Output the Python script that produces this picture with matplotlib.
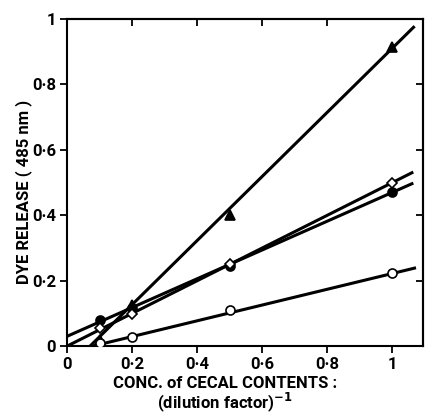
import matplotlib.pyplot as plt
import numpy as np

plt.rcParams['font.family'] = ['Roboto', 'DejaVu Sans']
plt.rcParams['font.weight'] = 'bold'

# dilution points
x_pts = [0.1, 0.2, 0.5, 1.0]

# measured dye release for each series
tri_y = [0.02, 0.125, 0.40, 0.915]      # filled triangles
dot_y = [0.08, 0.115, 0.245, 0.47]      # filled circles
dia_y = [0.055, 0.098, 0.25, 0.50]      # open diamonds
circ_y = [0.01, 0.028, 0.11, 0.223]     # open circles

# fitted lines: slope, intercept, x start, x end
fits = {"tri": (0.98, -0.069, 0.07, 1.065),
        "dot": (0.44, 0.03, 0.0, 1.06),
        "dia": (0.50, 0.0, 0.0, 1.06),
        "circ": (0.241, -0.019, 0.08, 1.068)}

series = {"tri": {"y": tri_y, "marker": "^", "fill": "black"},
          "dot": {"y": dot_y, "marker": "o", "fill": "black"},
          "dia": {"y": dia_y, "marker": "D", "fill": "white"},
          "circ": {"y": circ_y, "marker": "o", "fill": "white"}}

fig = plt.figure(figsize=(4.25, 4.13), dpi=100)
ax = fig.add_axes([0.158, 0.162, 0.838, 0.792])

for key, props in series.items():
    m, b, x0, x1 = fits[key]
    xs = np.array([x0, x1])
    ax.plot(xs, m * xs + b, color="black", linewidth=2.2, zorder=2)
    ms = 5 if props["marker"] == "D" else 6.5
    ax.plot(x_pts, props["y"], linestyle="none", marker=props["marker"],
            markersize=ms, markerfacecolor=props["fill"],
            markeredgecolor="black", markeredgewidth=1.2, zorder=3)

ax.set_xlim(0, 1.095)
ax.set_ylim(0, 1.0)

ticks = [0, 0.2, 0.4, 0.6, 0.8, 1.0]
labels = ["0", "0·2", "0·4", "0·6", "0·8", "1"]
ax.set_xticks(ticks)
ax.set_xticklabels(labels, fontweight="bold")
ax.set_yticks(ticks)
ax.set_yticklabels(labels, fontweight="bold")
ax.tick_params(direction="out", length=5, width=1.3, labelsize=12, pad=3)

# inward ticks on top and right
top = ax.secondary_xaxis("top")
top.set_xticks(ticks[1:5])
top.tick_params(direction="in", length=5, width=1.3, labeltop=False)
right = ax.secondary_yaxis("right")
right.set_yticks(ticks[1:5])
right.tick_params(direction="in", length=5, width=1.3, labelright=False)

for sp in ax.spines.values():
    sp.set_linewidth(1.5)
top.spines["top"].set_linewidth(1.5)
right.spines["right"].set_linewidth(1.5)

ax.set_ylabel("DYE RELEASE ( 485 nm )", fontsize=12, fontweight="bold")
ax.yaxis.set_label_coords(-0.1, 0.47)
ax.set_xlabel("CONC. of CECAL CONTENTS :\n(dilution factor)$^{-1}$",
              fontsize=12, fontweight="bold", linespacing=1.0)
ax.xaxis.set_label_coords(0.444, -0.09)
ax.xaxis.label.set_va("top")

fig.savefig("out.png", dpi=100)
